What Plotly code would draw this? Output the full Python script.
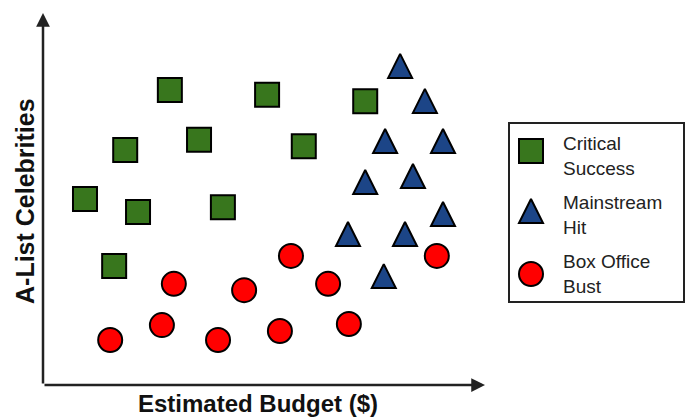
import plotly.graph_objects as go

W, H = 686, 417

# Data (arbitrary units: x = estimated budget, y = A-list celebrities)
series_names = ["Critical Success", "Mainstream Hit", "Box Office Bust"]

critical_x = [28.7, 50.7, 72.9, 18.6, 35.3, 59.0, 9.5, 21.5, 40.7, 16.1]
critical_y = [79.3, 78.0, 76.3, 63.2, 65.9, 64.2, 50.0, 46.5, 47.8, 32.0]

# triangles: values read at the marker tip (anchor of the arrow-up symbol)
mainstream_x = [80.8, 86.4, 77.4, 90.5, 72.9, 83.7, 90.5, 69.0, 81.9, 77.1]
mainstream_y = [89.0, 79.6, 68.8, 68.8, 57.8, 59.4, 49.2, 43.8, 43.8, 32.5]

bust_x = [15.2, 26.9, 29.6, 39.6, 45.5, 53.6, 56.1, 64.5, 69.2, 89.1]
bust_y = [12.1, 16.1, 27.2, 12.1, 25.5, 14.5, 34.7, 27.2, 16.4, 34.7]

legend_labels = ["Critical<br>Success", "Mainstream<br>Hit", "Box Office<br>Bust"]

GREEN = "#38761d"
BLUE = "#1c4587"
RED = "#ff0000"
EDGE = "#000000"
FONT = "Liberation Sans, Arial, Helvetica, sans-serif"

# pixel geometry of the plot area
PX_L, PX_R, PX_T, PX_B = 43, 485, 13, 385

fig = go.Figure()

mk_line = dict(color=EDGE, width=2)
fig.add_trace(go.Scatter(x=critical_x, y=critical_y, mode="markers", name=series_names[0],
                         marker=dict(symbol="square", size=24, color=GREEN, line=mk_line),
                         cliponaxis=False))
fig.add_trace(go.Scatter(x=mainstream_x, y=mainstream_y, mode="markers", name=series_names[1],
                         marker=dict(symbol="arrow-up", size=24, color=BLUE, line=mk_line),
                         cliponaxis=False))
fig.add_trace(go.Scatter(x=bust_x, y=bust_y, mode="markers", name=series_names[2],
                         marker=dict(symbol="circle", size=24, color=RED, line=mk_line),
                         cliponaxis=False))

# custom legend: its own axes in pixel-like units
LG_L, LG_R, LG_T, LG_B = 509, 684, 123, 302
legend_marker_x = [22, 22, 22]
legend_marker_y = [28, 76, 151]   # square centre, triangle tip, circle centre (px from legend top)
symbols = ["square", "arrow-up", "circle"]
colors = [GREEN, BLUE, RED]
for i in range(3):
    fig.add_trace(go.Scatter(x=[legend_marker_x[i]], y=[legend_marker_y[i]], mode="markers",
                             xaxis="x2", yaxis="y2", showlegend=False, hoverinfo="skip",
                             marker=dict(symbol=symbols[i], size=24, color=colors[i], line=mk_line),
                             cliponaxis=False))

fig.update_layout(
    width=W, height=H,
    margin=dict(l=0, r=0, t=0, b=0),
    paper_bgcolor="white", plot_bgcolor="white",
    showlegend=False,
    xaxis=dict(domain=[PX_L / W, PX_R / W], range=[0, 100], visible=False, fixedrange=True),
    yaxis=dict(domain=[1 - PX_B / H, 1 - PX_T / H], range=[0, 100], visible=False, fixedrange=True),
    xaxis2=dict(domain=[LG_L / W, LG_R / W], range=[0, LG_R - LG_L], visible=False,
                anchor="y2", fixedrange=True),
    yaxis2=dict(domain=[1 - LG_B / H, 1 - LG_T / H], range=[LG_B - LG_T, 0], visible=False,
                anchor="x2", fixedrange=True),
)

# legend box
fig.add_shape(type="rect", xref="paper", yref="paper",
              x0=LG_L / W, x1=LG_R / W, y0=1 - LG_B / H, y1=1 - LG_T / H,
              line=dict(color="#222222", width=2), fillcolor="rgba(0,0,0,0)")

legend_text_y = [156, 215, 274]
for lab, ty in zip(legend_labels, legend_text_y):
    fig.add_annotation(text=lab, xref="paper", yref="paper", x=561 / W, y=1 - ty / H,
                       xanchor="left", yanchor="middle", align="left", showarrow=False,
                       font=dict(family=FONT, size=19, color="#222222"))

# axis arrows
fig.add_annotation(xref="paper", yref="paper", x=PX_L / W, y=1 - PX_T / H, text="",
                   showarrow=True, axref="pixel", ayref="pixel", ax=0, ay=PX_B - PX_T,
                   arrowhead=2, arrowsize=1.1, arrowwidth=2.5, arrowcolor="#222222", standoff=0)
fig.add_annotation(xref="paper", yref="paper", x=PX_R / W, y=1 - PX_B / H, text="",
                   showarrow=True, axref="pixel", ayref="pixel", ax=-(PX_R - PX_L), ay=0,
                   arrowhead=2, arrowsize=1.1, arrowwidth=2.5, arrowcolor="#222222", standoff=0)

# axis titles
fig.add_annotation(text="<b>Estimated Budget ($)</b>", xref="paper", yref="paper",
                   x=258 / W, y=1 - 403 / H, xanchor="center", yanchor="middle", showarrow=False,
                   font=dict(family=FONT, size=24, color="#111111"))
fig.add_annotation(text="<b>A-List Celebrities</b>", xref="paper", yref="paper",
                   x=25 / W, y=1 - 201 / H, xanchor="center", yanchor="middle", showarrow=False,
                   textangle=-90, font=dict(family=FONT, size=25, color="#111111"))

fig.write_html("out.html", config={"displayModeBar": False},
               post_script="document.body.style.margin='0';document.body.style.overflow='hidden';")
